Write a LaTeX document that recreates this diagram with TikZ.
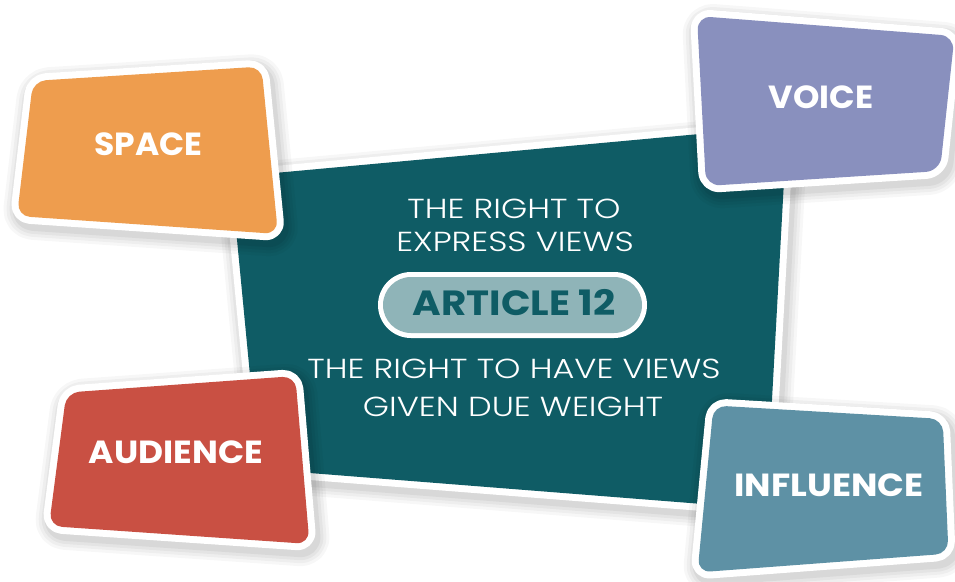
\documentclass[tikz,border=0pt]{standalone}
\usepackage{fontspec}
\setmainfont{Poppins}
\IfFontExistsTF{Poppins Light}{\newfontfamily\lightfont{Poppins Light}}{\newfontfamily\lightfont{Poppins}}
\definecolor{tealc}{HTML}{0F5C65}
\definecolor{spacec}{HTML}{EE9D4E}
\definecolor{voicec}{HTML}{8990BE}
\definecolor{audc}{HTML}{C95043}
\definecolor{inflc}{HTML}{5E91A5}
\definecolor{pillc}{HTML}{8FB4B8}
\newcommand\mycard[3]{%
  \foreach \w/\o in {36/0.03,30/0.035,24/0.04,18/0.05}{%
    \draw[black, opacity=\o, line width=\w pt, line join=round, rounded corners=#3, shift={(3,5)}, fill=black] #2 -- cycle;}
  \draw[white, line width=14pt, line join=round, rounded corners=#3, fill=white] #2 -- cycle;
  \fill[#1, rounded corners=#3] #2 -- cycle;
}
\newcommand\wide[2]{\scalebox{#1}[1]{#2}}
\tikzset{
  cardlabel/.style={text=white, inner sep=0pt, anchor=base, font=\bfseries\fontsize{32}{32}\selectfont},
  bodytext/.style={text=white, inner sep=0pt, anchor=base, font=\lightfont\fontsize{27.5}{27.5}\selectfont},
  arttext/.style={text=tealc, inner sep=0pt, anchor=base, font=\bfseries\fontsize{35}{35}\selectfont}
}
\begin{document}
\begin{tikzpicture}[x=1pt,y=-1pt]
\useasboundingbox (0,0) rectangle (955,581);
\fill[white] (0,0) rectangle (955,581);
% central panel
\mycard{tealc}{(231,177) -- (787,126) -- (766,509) -- (259,469)}{5pt}
% pill
\fill[white, rounded corners=33pt] (378,272) rectangle (647,338);
\fill[pillc, rounded corners=28pt] (383,277) rectangle (642,333);
\node[bodytext] (l1) at (514,218.3) {\wide{1.22}{THE RIGHT TO}};
\node[bodytext] (l2) at (515,251.7) {\wide{1.22}{EXPRESS VIEWS}};
\node[arttext] (art) at (514,315) {\wide{1.11}{ARTICLE 12}};
\node[bodytext] (l3) at (514,378.3) {\wide{1.22}{THE RIGHT TO HAVE VIEWS}};
\node[bodytext] (l4) at (513,416) {\wide{1.22}{GIVEN DUE WEIGHT}};
% cards
\mycard{spacec}{(33,81) -- (261.5,66.5) -- (278,234) -- (17,216)}{13pt}
\node[cardlabel] (space) at (148.3,155) {\wide{1.03}{SPACE}};
\mycard{voicec}{(697,16) -- (954.5,36) -- (940,171) -- (706,186)}{14pt}
\node[cardlabel] (voice) at (821,108.3) {\wide{1.05}{VOICE}};
\mycard{audc}{(66.4,392.6) -- (295.3,376) -- (309.5,544) -- (49,526)}{13pt}
\node[cardlabel] (audience) at (175.8,463.3) {\wide{1.075}{AUDIENCE}};
\mycard{inflc}{(713.5,405.4) -- (942.7,419) -- (948.5,553.6) -- (697.5,572.4)}{13pt}
\node[cardlabel] (influence) at (829,496) {\wide{1.1}{INFLUENCE}};
\end{tikzpicture}
\end{document}
